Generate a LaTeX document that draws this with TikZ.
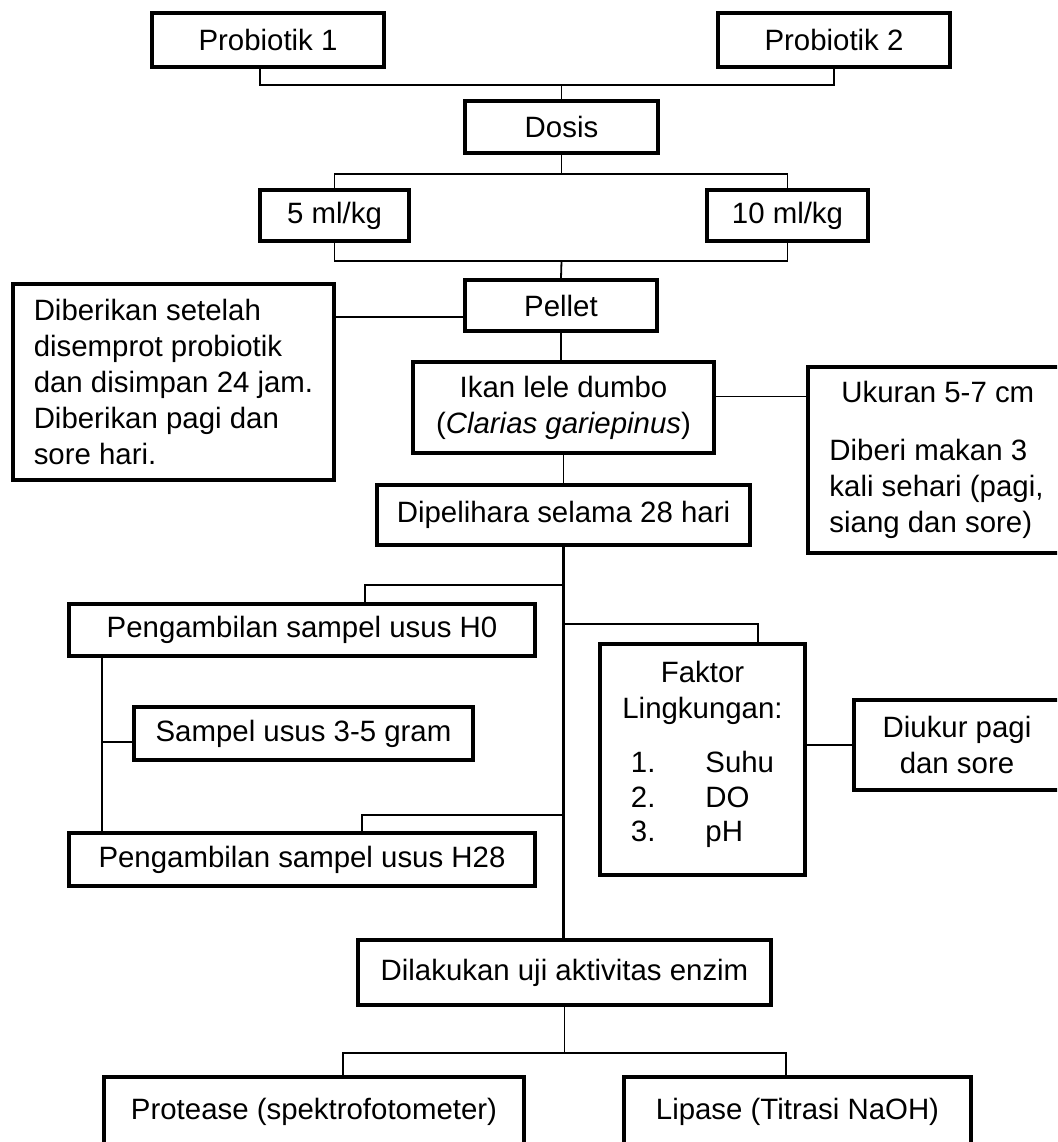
\documentclass[tikz,border=0pt]{standalone}
\usepackage{fontspec}
\setmainfont{Liberation Sans}
\usepackage{tikz}
\tikzset{
  % kotak
  box/.style={draw, line width=1.8pt, align=center, inner sep=2pt,
    font=\fontsize{14.7}{18}\selectfont},
  note/.style={box, align=left},
  wh/.style 2 args={minimum width=#1pt, minimum height=#2pt},
  % garis
  link/.style={draw, line width=0.9pt},
  trunk/.style={draw, line width=1.6pt},
  thinlink/.style={draw, line width=0.6pt}
}
\begin{document}
\begin{tikzpicture}[x=0.5pt, y=-0.5pt]
  \clip (0,0) rectangle (1057,1142);
  \node[box, wh={116}{27}] (p1) at (268,40) {Probiotik 1};
  \node[box, wh={116}{27}] (p2) at (834,40) {Probiotik 2};
  \node[box, wh={96.5}{26}] (dosis) at (561.5,127) {Dosis};
  \node[box, wh={74.5}{25.5}] (d5) at (334.5,215.5) {5 ml/kg};
  \node[box, wh={80.5}{25.5}] (d10) at (787.5,215.5) {10 ml/kg};
  \node[box, wh={96}{25.5}] (pellet) at (561,305.5) {Pellet};
  \node[note, wh={160.5}{98}] (givenote) at (173.5,382)
    {Diberikan setelah\\disemprot probiotik\\dan disimpan 24 jam.\\Diberikan pagi dan\\sore hari.};
  \node[box, wh={150.5}{45.5}] (fish) at (563.5,407.5) {Ikan lele dumbo\\(\textit{Clarias gariepinus})};
  \node[note, wh={128.5}{93}] (sizenote) at (936.5,460)
    {\hspace*{6pt}Ukuran 5-7 cm\\[11pt]Diberi makan 3\\kali sehari (pagi,\\siang dan sore)};
  \node[box, wh={186.5}{30}] (rearing) at (563.5,515) {Dipelihara selama 28 hari};
  \node[box, wh={233}{26}] (h0) at (302,630) {Pengambilan sampel usus H0};
  \node[box, wh={169.5}{26.5}] (gut) at (303.5,733.5) {Sampel usus 3-5 gram};
  \node[box, wh={233}{26.5}] (h28) at (302,859.5) {Pengambilan sampel usus H28};
  \node[box, wh={102.5}{115.5}] (envfactor) at (702.5,759.5)
    {Faktor\\Lingkungan:\\[9pt]\def\arraystretch{0.95}\begin{tabular}[t]{@{}l@{\hspace{25pt}}l@{}}1.&Suhu\\2.&DO\\3.&pH\rule[-8pt]{0pt}{8pt}\end{tabular}};
  \node[box, wh={103}{45}] (measure) at (957,745) {Diukur pagi\\dan sore};
  \node[box, wh={206.5}{32.5}] (assay) at (564.5,972.5) {Dilakukan uji aktivitas enzim};
  \node[box, wh={210}{35}] (protease) at (314,1112) {Protease (spektrofotometer)};
  \node[box, wh={173.5}{35}] (lipase) at (797.5,1112) {Lipase (Titrasi NaOH)};

  \coordinate (busA) at (561.5,85);
  \draw[link] ([xshift=-4pt]p1.south) |- (busA) -| (p2.south);
  \draw[link] (busA) -- (dosis.north);
  \coordinate (busB) at (561.5,174);
  \draw[link] (d5.north) |- (busB) -| (d10.north);
  \draw[link] (dosis.south) -- (busB);
  \coordinate (busC) at (561.5,261);
  \draw[link] (d5.south) |- (busC) -| (d10.south);
  \draw[link] (busC) -- (pellet.north);
  \coordinate (pelletlink) at ([yshift=-5.75pt]pellet.west);
  \draw[link] (pelletlink) -- (pelletlink -| givenote.east);
  \draw[link] (pellet.south) -- (pellet.south |- fish.north);
  \coordinate (fishlink) at ([yshift=5.5pt]fish.east);
  \draw[link] (fishlink) -- (fishlink -| sizenote.west);
  \draw[link] (fish.south) -- (fish.south |- rearing.north);
  \draw[trunk] (rearing.south) -- (rearing.south |- assay.north);
  \coordinate (toh0) at (563.5,585);
  \draw[link] (toh0) -| ([xshift=31.5pt]h0.north);
  \coordinate (toenv) at (563.5,624);
  \draw[link] (toenv) -| ([xshift=27.75pt]envfactor.north);
  \coordinate (toh28) at (563.5,815);
  \draw[link] (toh28) -| ([xshift=30pt]h28.north);
  \coordinate (side) at (102,742);
  \draw[thinlink] (side |- h0.south) -- (side |- h28.north);
  \draw[link] (side) -- (side -| gut.west);
  \draw[link] (measure.west) -- (measure.west -| envfactor.east);
  \coordinate (enzbus) at (564.5,1053);
  \draw[thinlink] (assay.south) -- (enzbus);
  \draw[link] ([xshift=14.5pt]protease.north) |- (enzbus) -| ([xshift=-5.75pt]lipase.north);
\end{tikzpicture}
\end{document}
